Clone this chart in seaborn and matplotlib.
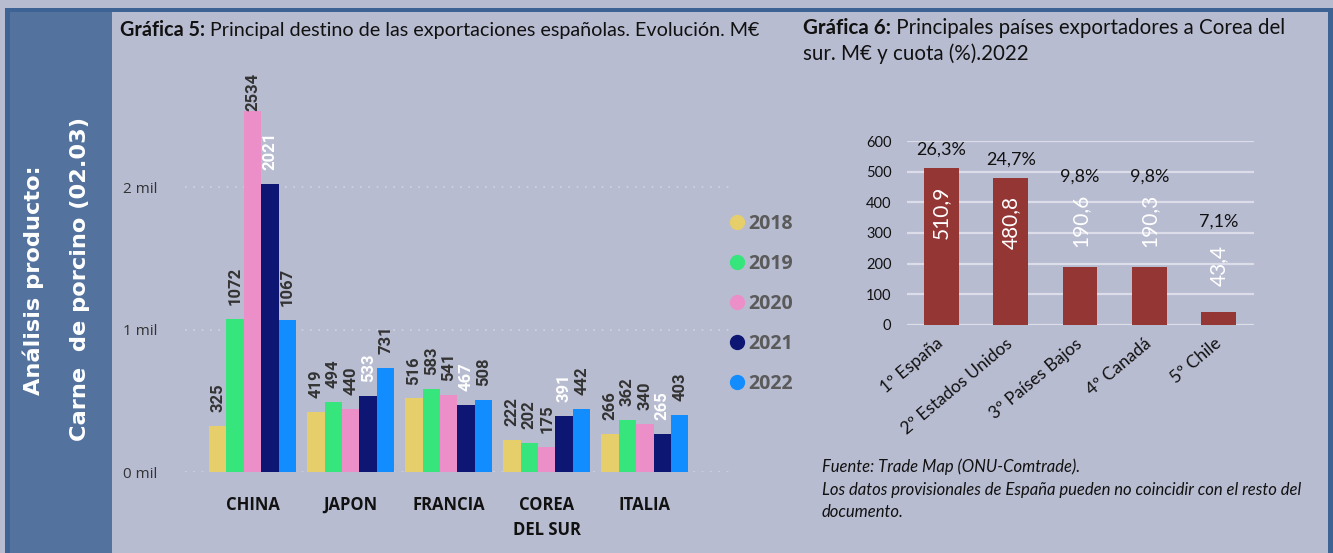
import numpy as np
import pandas as pd
import matplotlib
matplotlib.use("Agg")
import matplotlib.pyplot as plt
import seaborn as sns
from matplotlib.patches import Rectangle
from matplotlib.lines import Line2D
from matplotlib.font_manager import FontProperties

# ---------------- data ----------------
countries = ["CHINA", "JAPON", "FRANCIA", "COREA\nDEL SUR", "ITALIA"]
years = ["2018", "2019", "2020", "2021", "2022"]
v2018 = [325, 419, 516, 222, 266]
v2019 = [1072, 494, 583, 202, 362]
v2020 = [2534, 440, 541, 175, 340]
v2021 = [2021, 533, 467, 391, 265]
v2022 = [1067, 731, 508, 442, 403]
y_ticks1 = [0, 1000, 2000]
y_ticklabels1 = ["0 mil", "1 mil", "2 mil"]

exporters = ["1º España", "2º Estados Unidos", "3º Países Bajos", "4º Canadá", "5º Chile"]
exp_values = [510.9, 480.8, 190.6, 190.3, 43.4]
exp_share = ["26,3%", "24,7%", "9,8%", "9,8%", "7,1%"]
y_ticks2 = [0, 100, 200, 300, 400, 500, 600]

# ---------------- style ----------------
BG = "#b8bcd1"
SIDEBAR = "#53729e"
BORDER = "#3d6394"
palette = ["#e6cf6a", "#37e57d", "#ec8fc8", "#0d1773", "#118dff"]
RED = "#943634"

sns.set_style("white")
plt.rcParams["font.family"] = ["Lato", "DejaVu Sans"]

W, H = 1333, 553
fig = plt.figure(figsize=(W / 100, H / 100), dpi=100)
fig.patch.set_facecolor(BG)


def fx(x):
    return x / W


def fy(y):
    return 1 - y / H


# frame + sidebar
fig.add_artist(Rectangle((fx(5), 0), fx(1333) - fx(5), fy(8) - 0, transform=fig.transFigure,
                         facecolor=BORDER, edgecolor="none", zorder=0))
fig.add_artist(Rectangle((fx(10), 0), fx(1328) - fx(10), fy(12), transform=fig.transFigure,
                         facecolor=BG, edgecolor="none", zorder=0))
fig.add_artist(Rectangle((fx(10), 0), fx(112) - fx(10), fy(12), transform=fig.transFigure,
                         facecolor=SIDEBAR, edgecolor="none", zorder=0))
fig.text(fx(33), fy(280), "Análisis producto:", rotation=90, ha="center", va="center",
         color="white", fontweight="bold", fontsize=16.2, family="DejaVu Sans")
fig.text(fx(80), fy(279), "Carne  de porcino (02.03)", rotation=90, ha="center", va="center",
         color="white", fontweight="bold", fontsize=16.2, family="DejaVu Sans")

renderer = fig.canvas.get_renderer()


def two_part(x, y, bold, rest, size):
    t1 = fig.text(fx(x), fy(y), bold, fontweight="bold", fontsize=size, va="baseline",
                  color="#111111")
    bb = t1.get_window_extent(renderer)
    fig.text(bb.x1 / W, fy(y), rest, fontsize=size, va="baseline", color="#111111")


two_part(120, 36, "Gráfica 5:", " Principal destino de las exportaciones españolas. Evolución. M€", 14.2)
two_part(803, 34, "Gráfica 6:", " Principales países exportadores a Corea del", 14.8)
fig.text(fx(803), fy(60), "sur. M€ y cuota (%).2022", fontsize=14.8, va="baseline", color="#111111")

# ---------------- chart 5 ----------------
rows = []
for yr, vals in zip(years, [v2018, v2019, v2020, v2021, v2022]):
    for c, v in zip(countries, vals):
        rows.append({"pais": c, "anio": yr, "valor": v})
df = pd.DataFrame(rows)

ax1 = fig.add_axes([fx(185), fy(472), fx(735) - fx(185), fy(75) - fy(472)])
ax1.set_facecolor("none")
sns.barplot(data=df, x="pais", y="valor", hue="anio", palette=palette, ax=ax1,
            width=0.89, saturation=1, linewidth=0, legend=False, errorbar=None)
ax1.set_xlim(-0.69, 4.92)
ymax1 = 2786
ax1.set_ylim(0, ymax1)
ax1.set_yticks(y_ticks1)
ax1.set_yticklabels(y_ticklabels1)
ax1.set_xlabel("")
ax1.set_ylabel("")
for s in ax1.spines.values():
    s.set_visible(False)
ax1.yaxis.grid(True, color="#d2d4e0", linestyle=(0, (1, 4)), linewidth=1.2)
ax1.set_axisbelow(True)
ax1.tick_params(axis="y", length=0, pad=44.6, labelsize=11, labelcolor="#333333")
for lab in ax1.get_yticklabels():
    lab.set_ha("left")
    lab.set_family("Open Sans")
ax1.tick_params(axis="x", length=0, pad=17, labelsize=12, labelcolor="#111111")
for lab in ax1.get_xticklabels():
    lab.set_fontweight("bold")
    lab.set_family("Open Sans")
    lab.set_linespacing(1.55)

gap_units = 98
len_units = 270
for i, cont in enumerate(ax1.containers):
    col = "white" if years[i] == "2021" else "#333333"
    for patch in cont.patches:
        h = patch.get_height()
        xc = patch.get_x() + patch.get_width() / 2
        yb = min(h + gap_units, ymax1 - len_units)
        yb = max(yb, h)
        ax1.text(xc, yb, f"{int(round(h))}", rotation=90, ha="center", va="bottom",
                 fontsize=12, fontweight="bold", color=col, family="Roboto", clip_on=False)

handles = [Line2D([0], [0], marker="o", linestyle="", markersize=10,
                  markerfacecolor=c, markeredgecolor=c) for c in palette]
leg = fig.legend(handles, years, loc="upper left", bbox_to_anchor=(fx(727), fy(214)),
                 frameon=False, prop=FontProperties(family="Open Sans", weight="bold", size=14),
                 labelspacing=1.03, handletextpad=0.1, handlelength=1.0,
                 borderpad=0, borderaxespad=0)
for t in leg.get_texts():
    t.set_color("#5a5a5a")

# ---------------- chart 6 ----------------
df2 = pd.DataFrame({"pais": exporters, "valor": exp_values, "cuota": exp_share})
ax2 = fig.add_axes([fx(906.7), fy(325), fx(1253.5) - fx(906.7), fy(141) - fy(325)])
ax2.set_facecolor("none")
sns.barplot(data=df2, x="pais", y="valor", color=RED, ax=ax2, width=0.5, saturation=1,
            linewidth=0, errorbar=None)
ax2.set_xlim(-0.5, 4.5)
ax2.set_ylim(0, 600)
ax2.set_yticks(y_ticks2)
ax2.set_xlabel("")
ax2.set_ylabel("")
for s in ax2.spines.values():
    s.set_visible(False)
ax2.yaxis.grid(True, color="#dcdde8", linestyle="-", linewidth=1.6)
ax2.set_axisbelow(True)
ax2.tick_params(axis="y", length=0, pad=11, labelsize=10.5, labelcolor="#111111")
ax2.tick_params(axis="x", length=0, pad=12, labelsize=12.5, labelcolor="#111111")
for lab in ax2.get_xticklabels():
    lab.set_rotation(40)
    lab.set_ha("right")
    lab.set_va("center")
    lab.set_rotation_mode("anchor")

for patch, v, share in zip(ax2.patches, exp_values, exp_share):
    xc = patch.get_x() + patch.get_width() / 2
    yv = v - 145 if v > 300 else min(v + 150, 340)
    ax2.text(xc, yv, f"{v:.1f}".replace(".", ","), rotation=90, ha="center", va="center",
             fontsize=15, color="white", clip_on=False)
    yp = max(v, yv + 85) + 60
    ax2.text(xc, yp, share, ha="center", va="center", fontsize=13, color="#111111",
             clip_on=False)

# footnote
fig.text(fx(822), fy(467), "Fuente: Trade Map (ONU-Comtrade).", fontsize=12, style="italic",
         va="center", color="#111111")
fig.text(fx(822), fy(490), "Los datos provisionales de España pueden no coincidir con el resto del",
         fontsize=12, style="italic", va="center", color="#111111")
fig.text(fx(822), fy(512), "documento.", fontsize=12, style="italic", va="center", color="#111111")

fig.savefig("out.png", dpi=100, facecolor=BG)
